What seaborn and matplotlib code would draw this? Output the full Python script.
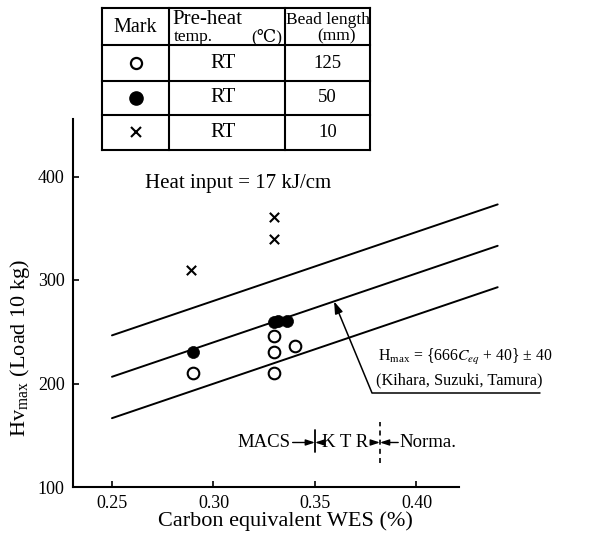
import matplotlib
matplotlib.use("Agg")
import matplotlib.pyplot as plt
import seaborn as sns
import numpy as np
import pandas as pd

# --- data -------------------------------------------------------------
# Open circles: bead length 125 mm
open_ceq = [0.290, 0.330, 0.330, 0.330, 0.340]
open_hv = [210, 246, 230, 210, 236]
# Filled circles: bead length 50 mm
filled_ceq = [0.290, 0.330, 0.332, 0.336]
filled_hv = [230, 259, 260, 260]
# Crosses: bead length 10 mm
cross_ceq = [0.289, 0.330, 0.330]
cross_hv = [310, 361, 340]

# Kihara, Suzuki, Tamura: Hmax = (666 Ceq + 40) +/- 40
line_ceq = [0.25, 0.44]
slope, intercept, band = 666, 40, 40

# Legend table
table_marks = ["o", "filled", "x"]
table_preheat = ["RT", "RT", "RT"]
table_bead = ["125", "50", "10"]

x_ticks = [0.25, 0.30, 0.35, 0.40]
x_ticklabels = ["0.25", "0.30", "0.35", "0.40"]
y_ticks = [100, 200, 300, 400]
y_ticklabels = ["100", "200", "300", "400"]

# Steel ranges marked along the bottom
macs_limit = 0.350
ktr_limit = 0.382

# --- style ------------------------------------------------------------
sns.set_theme(style="white")
plt.rcParams["font.family"] = ["Liberation Serif", "DejaVu Serif", "DejaVu Sans"]
plt.rcParams["mathtext.fontset"] = "stix"

W, H = 603, 533
fig = plt.figure(figsize=(W / 100, H / 100), dpi=100)

x_min, x_max = 0.2308, 0.47
y_min, y_max = 100, 456
ax_left, ax_bottom = 73, 487
ax_w = (x_max - x_min) / 0.05 * 101.5
ax_h = (y_max - y_min) * 1.035
ax = fig.add_axes([ax_left / W, (H - ax_bottom) / H, ax_w / W, ax_h / H])
ax.set_facecolor("white")

# bounding lines of the hardness relation
lx = np.array(line_ceq)
for off in (band, 0, -band):
    sns.lineplot(x=lx, y=slope * lx + intercept + off, ax=ax, color="black",
                 lw=1.4, estimator=None, sort=False)

# measured points
sns.scatterplot(x=open_ceq, y=open_hv, ax=ax, marker="o", s=70,
                facecolor="white", edgecolor="black", linewidth=1.5, zorder=5)
sns.scatterplot(x=filled_ceq, y=filled_hv, ax=ax, marker="o", s=75,
                color="black", edgecolor="black", linewidth=0.5, zorder=5)
sns.scatterplot(x=cross_ceq, y=cross_hv, ax=ax, marker="x", s=45,
                color="black", linewidth=1.5, zorder=5)

ax.set_xlim(x_min, x_max)
ax.set_ylim(y_min, y_max)
ax.set_xticks(x_ticks)
ax.set_xticklabels(x_ticklabels)
ax.set_yticks(y_ticks)
ax.set_yticklabels(y_ticklabels)
ax.tick_params(axis="both", direction="in", length=4, width=1.2,
               colors="black", labelsize=13, bottom=True, left=True)
ax.tick_params(axis="x", pad=6)
ax.tick_params(axis="y", pad=6)
for s in ("top", "right"):
    ax.spines[s].set_visible(False)
for s in ("left", "bottom"):
    ax.spines[s].set_color("black")
    ax.spines[s].set_linewidth(1.5)
ax.spines["bottom"].set_bounds(x_min, 0.421)
ax.spines["left"].set_bounds(y_min, y_max)
ax.grid(False)

ax.set_xlabel("Carbon equivalent WES (%)", fontsize=16, color="black")
ax.xaxis.set_label_coords((285 - ax_left) / ax_w, -(511 - ax_bottom) / ax_h)
ax.set_ylabel("")
fig.text(20 / W, 1 - 348 / H, r"Hv$_{\mathregular{max}}$ (Load 10 kg)", rotation=90,
         ha="center", va="center", fontsize=16, color="black")

ax.text(0.2663, 393, "Heat input = 17 kJ/cm", fontsize=15, ha="left", va="center",
        color="black")

# formula with leader
x_arrow = 0.3594
kink_x, kink_y = 0.378, 191.3
ax.annotate("", xy=(x_arrow, slope * x_arrow + intercept), xytext=(kink_x, kink_y),
            arrowprops=dict(arrowstyle="-|>,head_length=0.6,head_width=0.2",
                            color="black", lw=1.1, shrinkA=0, shrinkB=0))
ax.plot([kink_x, 0.4608], [kink_y, kink_y], color="black", lw=1.1, clip_on=False)
ax.text(0.381, 226, r"H$_{\mathregular{max}}$ = {666$\mathit{C}_{\mathit{eq}}$ + 40} ± 40",
        fontsize=11.3, ha="left", va="center", color="black")
ax.text(0.380, 203, "(Kihara, Suzuki, Tamura)", fontsize=11.8, ha="left", va="center",
        color="black")

# MACS / KTR / Normalised ranges
yr = 143
ax.plot([macs_limit, macs_limit], [133.4, 154.6], color="black", lw=1.3)
ax.plot([ktr_limit, ktr_limit], [123, 163], color="black", lw=1.2, ls=(0, (3, 2.5)))
ax.text(0.3380, yr, "MACS", fontsize=13.5, ha="right", va="center", color="black")
ax.text(0.3650, yr, "K T R", fontsize=13.5, ha="center", va="center", color="black")
ax.text(0.3918, yr, "Norma.", fontsize=13.5, ha="left", va="center", color="black")
arrow_kw = dict(arrowstyle="-|>,head_length=0.45,head_width=0.15", color="black",
                lw=1.0, shrinkA=0, shrinkB=0)
ax.annotate("", xy=(macs_limit, yr), xytext=(0.3390, yr), arrowprops=arrow_kw)
ax.annotate("", xy=(macs_limit, yr), xytext=(0.3530, yr), arrowprops=arrow_kw)
ax.annotate("", xy=(ktr_limit, yr), xytext=(0.3775, yr), arrowprops=arrow_kw)
ax.annotate("", xy=(ktr_limit, yr), xytext=(0.3910, yr), arrowprops=arrow_kw)

# --- legend table (drawn in pixel units) ------------------------------
tx0, tx1, ty0, ty1 = 102, 370, 8, 150
tab = fig.add_axes([tx0 / W, 1 - ty1 / H, (tx1 - tx0) / W, (ty1 - ty0) / H])
tab.set_xlim(tx0, tx1)
tab.set_ylim(ty1, ty0)
tab.axis("off")
col_edges = [102, 169, 285, 370]
row_edges = [8, 45, 81, 115, 150]
for c in col_edges:
    tab.plot([c, c], [row_edges[0], row_edges[-1]], color="black", lw=1.5,
             clip_on=False, solid_capstyle="projecting")
for r in row_edges:
    tab.plot([col_edges[0], col_edges[-1]], [r, r], color="black", lw=1.5,
             clip_on=False, solid_capstyle="projecting")

tab.text(135.5, 27, "Mark", fontsize=14.5, ha="center", va="center", color="black")
tab.text(172, 20, "Pre-heat", fontsize=15, ha="left", va="center", color="black")
tab.text(174, 37, "temp.", fontsize=12.5, ha="left", va="center", color="black")
tab.text(282, 37, "(℃)", fontsize=12.5, ha="right", va="center", color="black")
tab.text(328, 20, "Bead length", fontsize=12.5, ha="center", va="center", color="black")
tab.text(336, 36, "(mm)", fontsize=12.5, ha="center", va="center", color="black")

mark_x = (col_edges[0] + col_edges[1]) / 2
pre_x = (col_edges[1] + col_edges[2]) / 2 - 4
bead_x = (col_edges[2] + col_edges[3]) / 2
for i, (m, p, b) in enumerate(zip(table_marks, table_preheat, table_bead)):
    yc = (row_edges[i + 1] + row_edges[i + 2]) / 2
    if m == "o":
        tab.plot(mark_x, yc, marker="o", ms=8, mfc="white", mec="black", mew=1.6)
    elif m == "filled":
        tab.plot(mark_x, yc, marker="o", ms=9.5, mfc="black", mec="black")
    else:
        tab.plot(mark_x, yc, marker="x", ms=7, mec="black", mew=1.5)
    tab.text(pre_x, yc, p, fontsize=15, ha="center", va="center", color="black")
    tab.text(bead_x, yc, b, fontsize=13.5, ha="center", va="center", color="black")

fig.savefig("out.png", dpi=100, facecolor="white")
